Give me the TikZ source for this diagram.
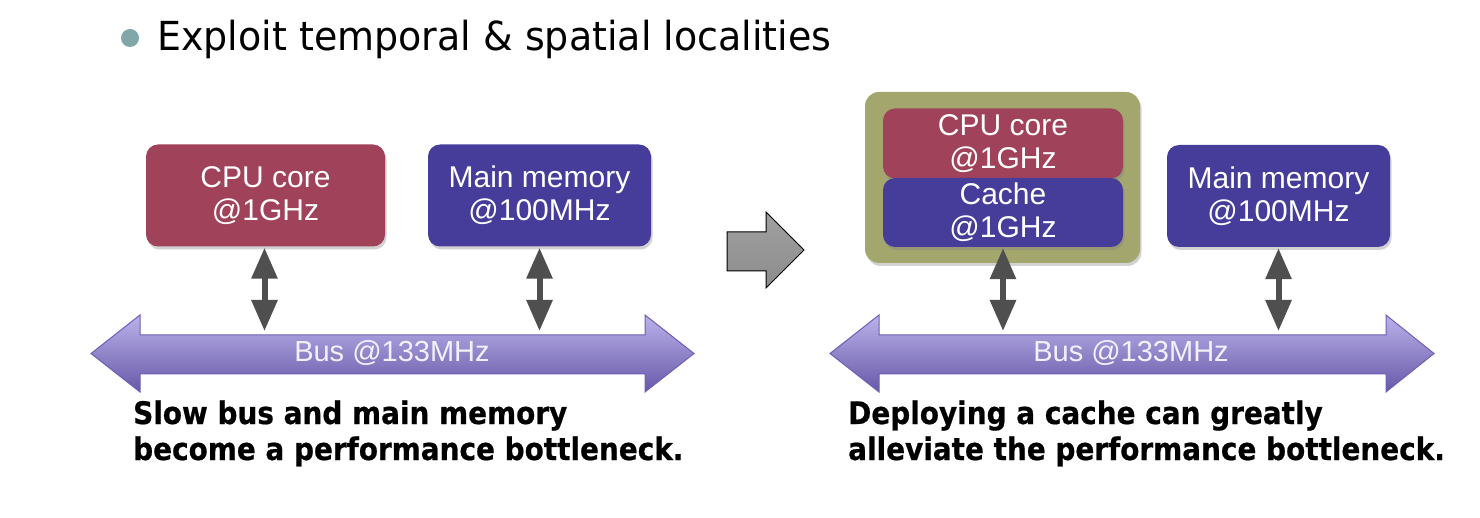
\documentclass[tikz,border=0pt]{standalone}
\usepackage{fontspec}
\setmainfont{Liberation Sans}
\newfontfamily\titlefont[FakeStretch=0.95]{DejaVu Sans}
\newfontfamily\capfont[FakeStretch=0.9, BoldFeatures={FakeBold=0.6}]{DejaVu Sans}
\usetikzlibrary{arrows.meta,shadows}
\definecolor{cpured}{HTML}{A04259}
\definecolor{memblue}{HTML}{463D9B}
\definecolor{olive}{HTML}{A3A76E}
\definecolor{darrow}{HTML}{4F4F4F}
\definecolor{bustop}{HTML}{BAB2EA}
\definecolor{busbot}{HTML}{6858A8}
\definecolor{busedge}{HTML}{6E60B8}
\definecolor{buslabel}{HTML}{F2F0FC}
\definecolor{bulletc}{HTML}{80A8A8}
\tikzset{
  boxbase/.style={rounded corners=12pt, inner sep=0pt, text=white, align=center,
    font=\fontsize{30}{33}\selectfont,
    drop shadow={opacity=0.35, shadow xshift=1.5pt, shadow yshift=-3pt}},
  cpubox/.style={boxbase, fill=cpured},
  membox/.style={boxbase, fill=memblue},
  chipbox/.style={rounded corners=14pt, fill=olive, inner sep=0pt,
    drop shadow={opacity=0.35, shadow xshift=1.5pt, shadow yshift=-3pt}},
  link/.style={darrow, line width=6pt,
    {Triangle[length=31pt,width=25pt]}-{Triangle[length=31pt,width=25pt]}},
  busshape/.style={top color=bustop, bottom color=busbot, draw=busedge, line width=1pt},
  buslbl/.style={text=buslabel, font=\fontsize{29}{32}\selectfont, inner sep=0pt},
  captxt/.style={anchor=base west, inner sep=0pt, font=\capfont\bfseries\fontsize{31}{36}\selectfont},
}
\begin{document}
\begin{tikzpicture}[x=1pt,y=-1pt]
\useasboundingbox (0,0) rectangle (1480,518);
\fill[white] (0,0) rectangle (1480,518);

% title
\fill[bulletc] (130,38) circle (9);
\node[anchor=base west, inner sep=0pt, font=\titlefont\fontsize{40}{44}\selectfont] (title) at (157,51) {Exploit temporal \& spatial localities};

% ---------- left diagram ----------
\node[cpubox, minimum width=239pt, minimum height=102pt] (cpuL) at (265.5,195.5) {CPU core\\@1GHz};
\node[membox, minimum width=223pt, minimum height=102pt] (memL) at (539.5,195.5) {Main memory\\@100MHz};
\shade[busshape] (91,353.5) -- (140,315) -- (140,335) -- (645,335) -- (645,315) -- (694,353.5) -- (645,392) -- (645,374) -- (140,374) -- (140,392) -- cycle;
\node[buslbl] (busL) at (392,353) {Bus @133MHz};
\coordinate (busLa) at (264.5,331);
\coordinate (busLb) at (539.5,331);
\draw[link] ([yshift=-1pt]cpuL.south -| busLa) -- (busLa);
\draw[link] ([yshift=-1pt]memL.south -| busLb) -- (busLb);
\node[captxt] (capL1) at (133,424) {Slow bus and main memory};
\node[captxt] (capL2) at (133,460) {become a performance bottleneck.};

% ---------- transition arrow ----------
\shade[top color=gray!75, bottom color=gray!110!black, draw=black, line width=1pt]
  (727,232) -- (766,232) -- (766,212) -- (804,250) -- (766,288) -- (766,271) -- (727,271) -- cycle;

% ---------- right diagram ----------
\node[chipbox, minimum width=275pt, minimum height=171pt] (chip) at (1002.5,177.5) {};
\node[cpubox, minimum width=240pt, minimum height=70pt] (cpuR) at (1003,143.5) {CPU core\\@1GHz};
\node[membox, minimum width=240pt, minimum height=69pt] (cacheR) at (1003,212.5) {Cache\\@1GHz};
\node[membox, minimum width=223pt, minimum height=102pt] (memR) at (1278.5,196) {Main memory\\@100MHz};
\shade[busshape] (830,353.5) -- (879,315) -- (879,335) -- (1386,335) -- (1386,315) -- (1434,353.5) -- (1386,392) -- (1386,374) -- (879,374) -- (879,392) -- cycle;
\node[buslbl] (busR) at (1131,353) {Bus @133MHz};
\coordinate (busRa) at (1003,331);
\coordinate (busRb) at (1278.5,331);
\draw[link] ([yshift=-1pt]cacheR.south -| busRa) -- (busRa);
\draw[link] ([yshift=-1pt]memR.south -| busRb) -- (busRb);
\node[captxt] (capR1) at (848,424) {Deploying a cache can greatly};
\node[captxt] (capR2) at (848,460) {alleviate the performance bottleneck.};
\end{tikzpicture}
\end{document}
